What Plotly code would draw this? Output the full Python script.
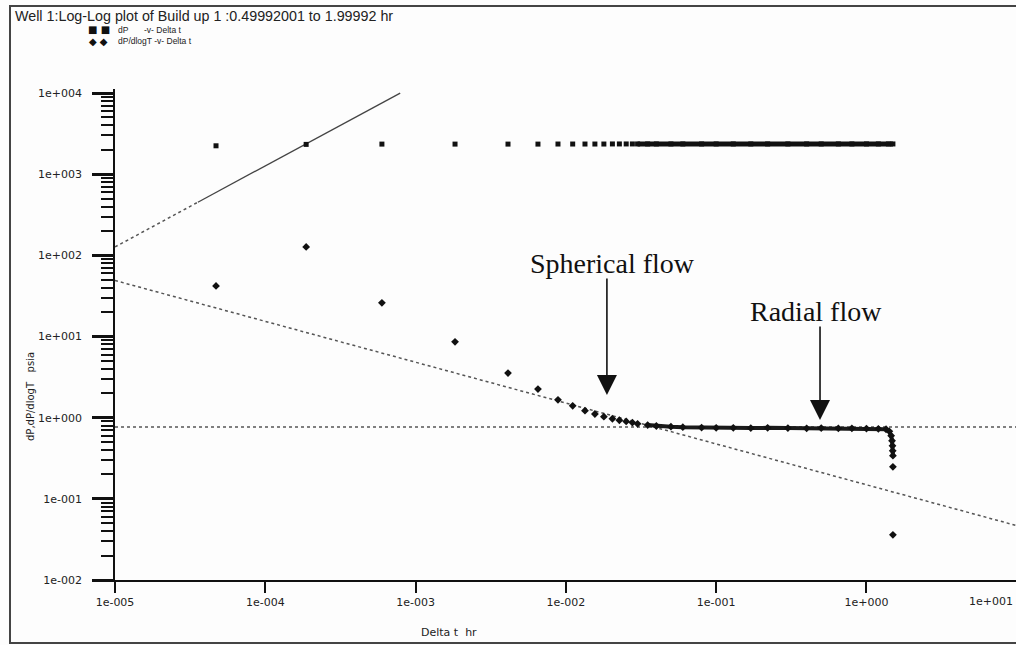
import plotly.graph_objects as go

# ---------------- data ----------------
dp_t = [4.70e-5, 1.87e-4, 5.97e-4, 1.83e-3, 4.12e-3, 6.52e-3, 8.86e-3, 1.11e-2,
        1.34e-2, 1.56e-2, 1.79e-2, 2.04e-2, 2.27e-2, 2.52e-2, 2.77e-2, 3.0e-2,
        3.5e-2, 4.0e-2, 5.0e-2, 6.0e-2, 8.0e-2, 0.10, 0.13, 0.17, 0.22, 0.30,
        0.40, 0.50, 0.65, 0.80, 1.00, 1.20, 1.40, 1.50]
dp_v = [2240, 2330, 2350, 2350, 2350, 2350, 2355, 2355,
        2355, 2355, 2355, 2360, 2360, 2360, 2360, 2360,
        2360, 2360, 2360, 2360, 2360, 2360, 2360, 2360, 2360, 2360,
        2360, 2360, 2360, 2360, 2360, 2360, 2360, 2360]

der_t = [4.70e-5, 1.87e-4, 5.97e-4, 1.83e-3, 4.12e-3, 6.52e-3, 8.86e-3, 1.11e-2,
         1.34e-2, 1.56e-2, 1.79e-2, 2.04e-2, 2.27e-2, 2.52e-2, 2.77e-2, 3.0e-2,
         3.5e-2, 4.0e-2, 5.0e-2, 6.0e-2, 8.0e-2, 0.10, 0.13, 0.17, 0.22, 0.30,
         0.40, 0.50, 0.65, 0.80, 1.00, 1.20, 1.35, 1.42, 1.46, 1.48, 1.49,
         1.495, 1.50, 1.50, 1.50]
der_v = [42, 127, 26, 8.6, 3.55, 2.25, 1.66, 1.40,
         1.22, 1.11, 1.03, 0.97, 0.93, 0.90, 0.87, 0.84,
         0.81, 0.79, 0.775, 0.765, 0.755, 0.75, 0.75, 0.745, 0.75, 0.745,
         0.74, 0.745, 0.74, 0.74, 0.735, 0.73, 0.72, 0.68, 0.60, 0.52, 0.45,
         0.39, 0.34, 0.248, 0.036]

# straight-line fits drawn on the plot
unit_t = [1e-5, 3.56e-5, 7.9e-4]          # unit-slope (wellbore storage) line
unit_v = [127, 452, 10000]
sph_t = [1e-5, 9.9]                        # -1/2 slope (spherical flow) line
sph_v = [49, 0.047]
rad_t = [1e-5, 9.9]                        # horizontal (radial flow) line
rad_v = [0.77, 0.77]

x_tickvals = [1e-5, 1e-4, 1e-3, 1e-2, 1e-1, 1e0]
x_ticktext = ["1e-005", "1e-004", "1e-003", "1e-002", "1e-001", "1e+000"]
x_extra_label = "1e+001"
y_tickvals = [1e-2, 1e-1, 1e0, 1e1, 1e2, 1e3, 1e4]
y_ticktext = ["1e-002", "1e-001", "1e+000", "1e+001", "1e+002", "1e+003", "1e+004"]

title_text = "Well 1:Log-Log plot of Build up 1 :0.49992001 to 1.99992 hr"
x_title = "Delta t  hr"
y_title = "dP,dP/dlogT   psia"

DENSE_DP = 15      # index where dP points merge into a continuous band
DENSE_DER = 16     # same for derivative
N_ISOLATED_END = 2  # last derivative points not part of the band

# ---------------- layout geometry ----------------
W, H = 1016, 645
L, R, T, B = 115, 0, 89, 65
PW, PH = W - L - R, H - T - B


def px(x):
    return (x - L) / PW


def py(y):
    return (H - B - y) / PH


minor_vals = [m * 10 ** e for e in range(-2, 4) for m in range(2, 10)]

fig = go.Figure()

# fitted lines
fig.add_trace(go.Scatter(x=unit_t[:2], y=unit_v[:2], mode="lines",
                         line=dict(color="#555", width=1.5, dash="dot"),
                         hoverinfo="skip", showlegend=False))
fig.add_trace(go.Scatter(x=unit_t[1:], y=unit_v[1:], mode="lines",
                         line=dict(color="#444", width=1.3),
                         hoverinfo="skip", showlegend=False))
fig.add_trace(go.Scatter(x=sph_t, y=sph_v, mode="lines",
                         line=dict(color="#555", width=1.5, dash="dot"),
                         hoverinfo="skip", showlegend=False))
fig.add_trace(go.Scatter(x=rad_t, y=rad_v, mode="lines",
                         line=dict(color="#555", width=1.5, dash="dot"),
                         hoverinfo="skip", showlegend=False))

# dense bands
fig.add_trace(go.Scatter(x=dp_t[DENSE_DP:], y=dp_v[DENSE_DP:], mode="lines",
                         line=dict(color="#111", width=5),
                         hoverinfo="skip", showlegend=False))
fig.add_trace(go.Scatter(x=der_t[DENSE_DER:-N_ISOLATED_END],
                         y=der_v[DENSE_DER:-N_ISOLATED_END], mode="lines",
                         line=dict(color="#1a1a1a", width=4),
                         hoverinfo="skip", showlegend=False))

# data points
fig.add_trace(go.Scatter(x=dp_t, y=dp_v, mode="markers", name="dP",
                         marker=dict(symbol="square", size=5, color="#111"),
                         showlegend=False))
fig.add_trace(go.Scatter(x=der_t, y=der_v, mode="markers", name="dP/dlogT",
                         marker=dict(symbol="diamond", size=6, color="#111"),
                         showlegend=False))

tickfont = dict(family="DejaVu Sans", size=11, color="#222")

fig.update_xaxes(type="log", range=[-5, 0.995], showgrid=False, zeroline=False,
                 showline=True, linecolor="#111", linewidth=1.5,
                 ticks="outside", ticklen=11, tickwidth=1.8, tickcolor="#111",
                 tickvals=x_tickvals, ticktext=x_ticktext, tickfont=tickfont)
fig.update_yaxes(type="log", range=[-2, 4.05], showgrid=False, zeroline=False,
                 showline=True, linecolor="#111", linewidth=1.5,
                 ticks="outside", ticklen=21, tickwidth=2.5, tickcolor="#111",
                 tickvals=y_tickvals, ticktext=y_ticktext, tickfont=tickfont,
                 ticklabelstandoff=8,
                 minor=dict(ticks="outside", ticklen=12, tickwidth=1.5,
                            tickcolor="#111", tickvals=minor_vals, showgrid=False))

legend_font = dict(family="Liberation Sans", size=8.5, color="#222")
sym_font = dict(family="DejaVu Sans", size=10, color="#111")

annotations = [
    dict(text=title_text, x=px(13), y=py(16), xref="paper", yref="paper",
         xanchor="left", yanchor="middle", showarrow=False,
         font=dict(family="Liberation Sans", size=14.3, color="#222")),
    dict(text="\u25a0 \u25a0", x=px(86), y=py(30), xref="paper", yref="paper",
         xanchor="left", yanchor="middle", showarrow=False, font=sym_font),
    dict(text="dP", x=px(116), y=py(30), xref="paper", yref="paper",
         xanchor="left", yanchor="middle", showarrow=False, font=legend_font),
    dict(text="-v- Delta t", x=px(142), y=py(30), xref="paper", yref="paper",
         xanchor="left", yanchor="middle", showarrow=False, font=legend_font),
    dict(text="\u25c6 \u25c6", x=px(87), y=py(41), xref="paper", yref="paper",
         xanchor="left", yanchor="middle", showarrow=False, font=sym_font),
    dict(text="dP/dlogT -v- Delta t", x=px(116), y=py(41), xref="paper", yref="paper",
         xanchor="left", yanchor="middle", showarrow=False, font=legend_font),
    dict(text=x_extra_label, x=px(991), y=py(601), xref="paper", yref="paper",
         xanchor="center", yanchor="middle", showarrow=False, font=tickfont),
    dict(text=x_title, x=px(449), y=py(632), xref="paper", yref="paper",
         xanchor="center", yanchor="middle", showarrow=False,
         font=dict(family="DejaVu Sans", size=11, color="#222")),
    dict(text=y_title, x=px(30), y=py(397), xref="paper", yref="paper",
         xanchor="center", yanchor="middle", showarrow=False, textangle=-90,
         font=dict(family="DejaVu Sans", size=10, color="#222")),
    # flow-regime labels
    dict(text="Spherical flow", x=-1.693, y=1.906, xref="x", yref="y",
         xanchor="center", yanchor="middle", showarrow=False,
         font=dict(family="Liberation Serif", size=28, color="#111")),
    dict(text="Radial flow", x=-0.336, y=1.303, xref="x", yref="y",
         xanchor="center", yanchor="middle", showarrow=False,
         font=dict(family="Liberation Serif", size=28, color="#111")),
    dict(text="", x=-1.727, y=0.281, xref="x", yref="y", showarrow=True,
         ax=0, ay=-118, arrowhead=2, arrowsize=2.5, arrowwidth=1.6,
         arrowcolor="#111"),
    dict(text="", x=-0.309, y=-0.027, xref="x", yref="y", showarrow=True,
         ax=0, ay=-95, arrowhead=2, arrowsize=2.5, arrowwidth=1.6,
         arrowcolor="#111"),
]

shapes = [
    dict(type="rect", xref="paper", yref="paper",
         x0=px(10), x1=px(1030), y0=py(643), y1=py(6),
         line=dict(color="#444", width=2), fillcolor="rgba(0,0,0,0)"),
]

fig.update_layout(width=W, height=H, autosize=False,
                  margin=dict(l=L, r=R, t=T, b=B),
                  paper_bgcolor="#fdfdfd", plot_bgcolor="#fdfdfd",
                  annotations=annotations, shapes=shapes, showlegend=False)

fig.write_html("out.html")
